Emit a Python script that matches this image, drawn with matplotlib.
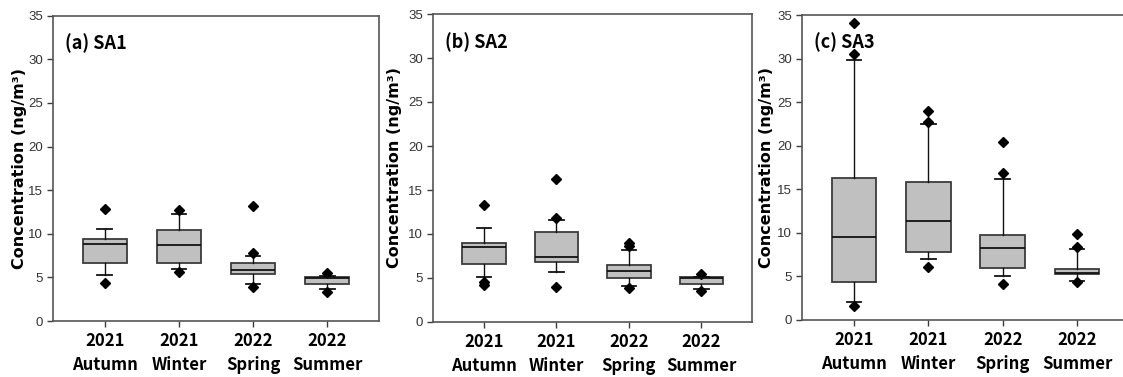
"""Seasonal concentration box plots for sampling sites SA1-SA3."""

import matplotlib

matplotlib.use("Agg")

import matplotlib.pyplot as plt  # noqa: E402

# ---------- Data ----------

SEASONS = ["2021\nAutumn", "2021\nWinter", "2022\nSpring", "2022\nSummer"]
PANELS = ["(a) SA1", "(b) SA2", "(c) SA3"]

# SA1
SA1_Q1 = [6.65, 6.65, 5.39, 4.28]
SA1_MED = [8.79, 8.75, 5.81, 4.93]
SA1_Q3 = [9.44, 10.43, 6.65, 5.00]
SA1_WLO = [5.27, 6.00, 4.28, 3.63]
SA1_WHI = [10.58, 12.23, 7.49, 5.16]
SA1_FLIERS = [[12.8, 4.32], [12.72, 5.62], [7.76, 13.22, 3.94], [5.46, 3.32]]

# SA2
SA2_Q1 = [6.56, 6.83, 5.04, 4.32]
SA2_MED = [8.53, 7.43, 5.76, 5.00]
SA2_Q3 = [8.99, 10.24, 6.45, 5.08]
SA2_WLO = [5.08, 5.69, 4.06, 3.79]
SA2_WHI = [10.66, 11.64, 8.15, 5.10]
SA2_FLIERS = [[13.35, 4.55, 4.25], [11.87, 16.27, 4.02], [8.65, 8.99, 3.83], [5.42, 3.49]]

# SA3
SA3_Q1 = [4.32, 7.80, 6.00, 5.24]
SA3_MED = [9.49, 11.32, 8.22, 5.43]
SA3_Q3 = [16.26, 15.88, 9.75, 5.85]
SA3_WLO = [2.10, 7.00, 5.05, 4.44]
SA3_WHI = [29.84, 22.49, 16.18, 8.11]
SA3_FLIERS = [[30.49, 34.12, 1.64], [22.69, 23.95, 6.04], [16.91, 20.47, 4.17], [8.38, 9.83, 4.36]]

SITES = [
    (SA1_Q1, SA1_MED, SA1_Q3, SA1_WLO, SA1_WHI, SA1_FLIERS),
    (SA2_Q1, SA2_MED, SA2_Q3, SA2_WLO, SA2_WHI, SA2_FLIERS),
    (SA3_Q1, SA3_MED, SA3_Q3, SA3_WLO, SA3_WHI, SA3_FLIERS),
]

# ---------- Layout (figure pixels -> fractions) ----------

W, H = 1123, 377
AX_RECTS = [
    (53, 15.7, 379, 321),
    (433, 14, 752, 322),
    (802, 15, 1129, 320),
]
YLABEL_X = [20, 395, 767]

BOX_FACE = "#c0c0c0"
EDGE = "#3c3c3c"
TICK_COLOR = "#333333"
NARROW = ["Liberation Sans", "DejaVu Sans"]
LABEL_FONT = ["Noto Sans CJK KR", "DejaVu Sans"]


def build_stats(site):
    q1, med, q3, wlo, whi, fliers = site
    return [
        {"q1": a, "med": m, "q3": b, "whislo": lo, "whishi": hi, "fliers": f}
        for a, m, b, lo, hi, f in zip(q1, med, q3, wlo, whi, fliers, strict=True)
    ]


def draw_panel(fig, rect, site, title, ylabel_x):
    x0, y0, x1, y1 = rect
    ax = fig.add_axes([x0 / W, (H - y1) / H, (x1 - x0) / W, (y1 - y0) / H])
    ax.bxp(
        build_stats(site),
        positions=range(1, len(SEASONS) + 1),
        widths=0.6,
        capwidths=0.2,
        patch_artist=True,
        showfliers=True,
        boxprops={"facecolor": BOX_FACE, "edgecolor": EDGE, "linewidth": 1.3},
        medianprops={"color": "#111111", "linewidth": 1.3},
        whiskerprops={"color": "#111111", "linewidth": 1.0},
        capprops={"color": "#111111", "linewidth": 1.3},
        flierprops={"marker": "D", "markersize": 5, "markerfacecolor": "black",
                    "markeredgecolor": "black"},
    )
    ax.set_xlim(0.3, 4.7)
    ax.set_ylim(0, 35)
    ax.set_yticks(range(0, 36, 5))
    ax.set_xticks(range(1, len(SEASONS) + 1))
    ax.set_xticklabels(SEASONS)
    for lbl in ax.get_xticklabels():
        lbl.set_family(LABEL_FONT)
        lbl.set_fontweight("bold")
        lbl.set_fontsize(12)
        lbl.set_linespacing(1.4)
    for lbl in ax.get_yticklabels():
        lbl.set_family(NARROW)
        lbl.set_fontsize(9.5)
        lbl.set_color(TICK_COLOR)
    ax.tick_params(axis="y", direction="out", length=4, width=1, color=EDGE, pad=3)
    ax.tick_params(axis="x", direction="out", length=4, width=1, color=EDGE, pad=4)
    for sp in ax.spines.values():
        sp.set_color("#555555")
        sp.set_linewidth(1.2)
    ax.text(0.037, 0.91, title, transform=ax.transAxes, ha="left", va="center",
            fontsize=13, family=LABEL_FONT, fontweight="bold")
    fig.text(ylabel_x / W, ((H - y1) + (y1 - y0) / 2) / H, "Concentration (ng/m\u00b3)",
             rotation=90, ha="center", va="center", fontsize=11.5,
             fontweight="bold", family=["DejaVu Sans"])
    return ax


def main() -> None:
    fig = plt.figure(figsize=(W / 100, H / 100), dpi=100)
    for rect, site, title, ylx in zip(AX_RECTS, SITES, PANELS, YLABEL_X, strict=True):
        draw_panel(fig, rect, site, title, ylx)
    fig.savefig("out.png", dpi=100)
    plt.close(fig)


if __name__ == "__main__":
    main()
